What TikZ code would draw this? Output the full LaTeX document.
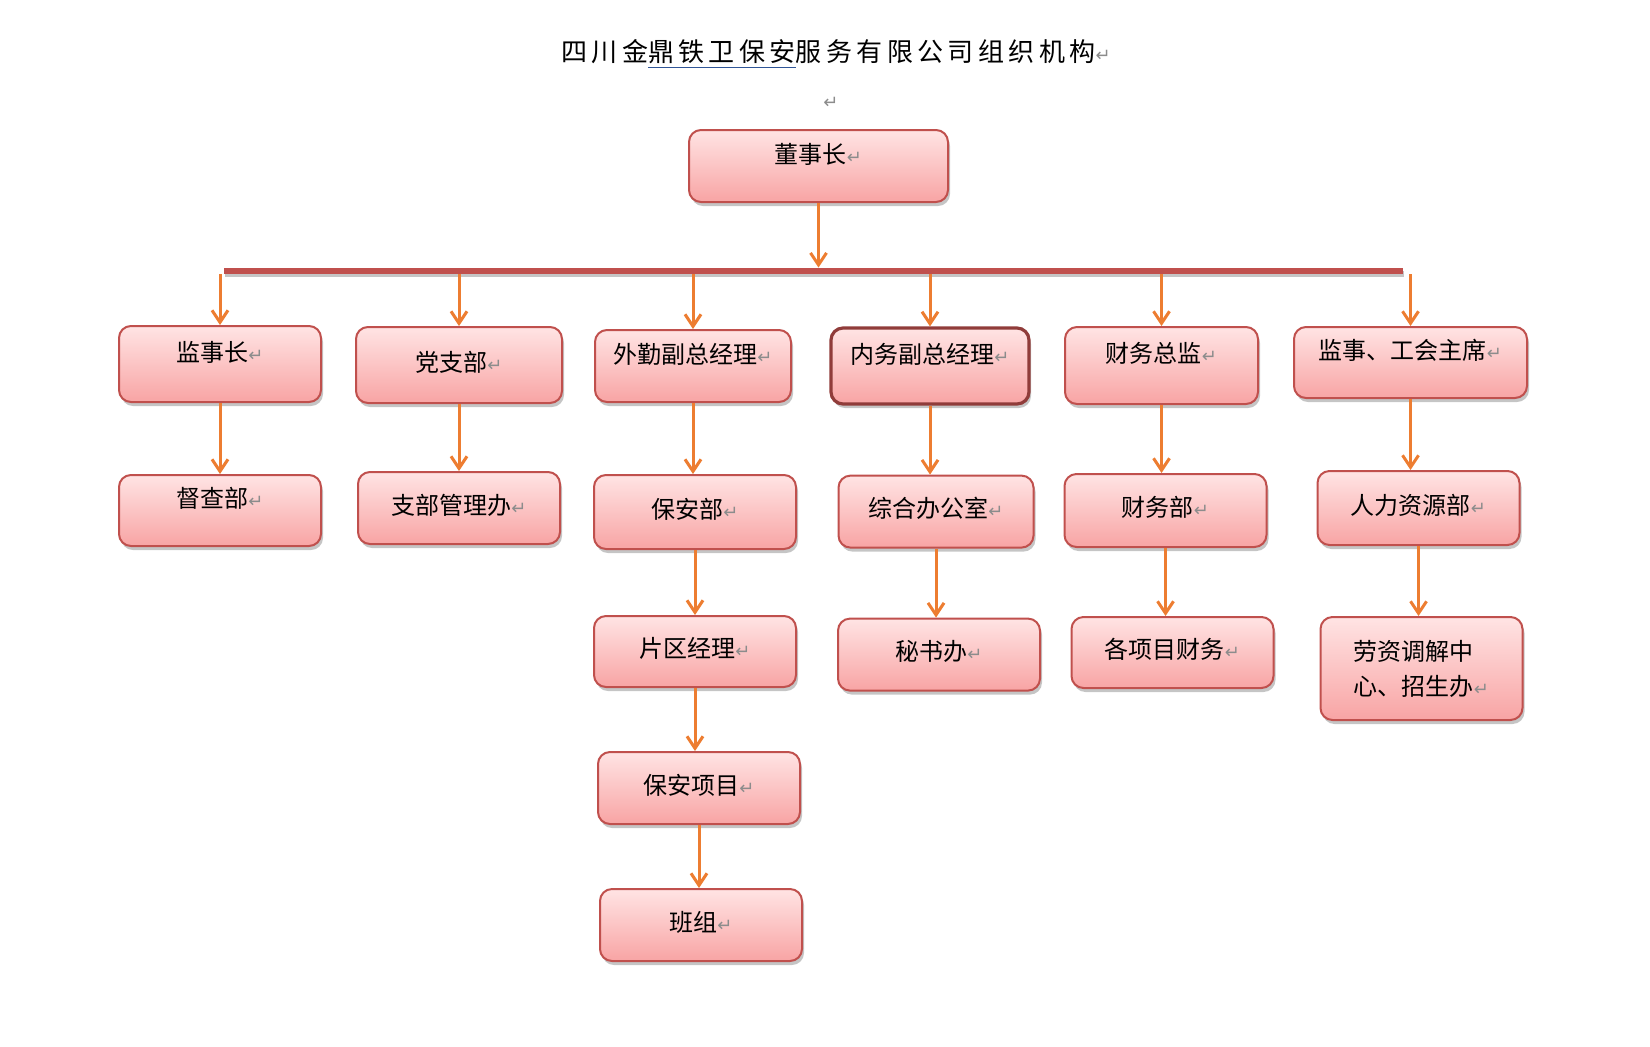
\documentclass[tikz,border=0pt]{standalone}
\usepackage{fontspec}
\usepackage{xcolor}
\usetikzlibrary{arrows.meta,positioning,shadows}
\setmainfont{Noto Sans CJK SC}
\newfontfamily\titlefont[LetterSpace=17]{Noto Sans CJK SC}
\newfontfamily\markfont{DejaVu Sans}
\definecolor{boxline}{HTML}{C0504D}
\definecolor{boxtop}{HTML}{FFE4E4}
\definecolor{boxbot}{HTML}{F8A4A4}
\definecolor{flowline}{HTML}{ED7D31}
\definecolor{markgray}{HTML}{8C8C8C}
\definecolor{spellblue}{HTML}{2F5597}
\newcommand{\retmark}{{\markfont\fontsize{9pt}{9pt}\selectfont\color{markgray}↵}}

\begin{document}
\begin{tikzpicture}[x=0.5pt, y=-0.5pt,
  orgbox/.style={rectangle, draw=boxline, line width=1pt, top color=boxtop, bottom color=boxbot, rounded corners=6pt, minimum width=101pt, minimum height=36pt, inner sep=2pt, align=center, text height=9pt, text depth=3pt, font=\fontsize{12pt}{17.5pt}\selectfont, drop shadow={shadow xshift=1pt, shadow yshift=-2pt, fill=black!45, opacity=0.5}},
  upbox/.style={orgbox, text depth=12pt},
  busbar/.style={rectangle, fill=boxline, inner sep=0pt, minimum height=3pt, drop shadow={shadow xshift=0.5pt, shadow yshift=-1.5pt, fill=black!45, opacity=0.5}},
  flow/.style={-{Straight Barb[length=6pt, width=8pt]}, line width=1.5pt, color=flowline}]
\useasboundingbox (0,0) rectangle (1650,1046);
% title
\node[font=\titlefont\fontsize{13pt}{15pt}\selectfont] (title) at (836,54) {四川金{\color{spellblue}\underline{\textcolor{black}{鼎铁卫保安}}}服务有限公司组织机构\retmark};
\node (blank) at (831,103) {\retmark};
% top
\node[upbox, minimum width=129.5pt] (dsz) at (818.5,166) {董事长\retmark};
\node[busbar, minimum width=589.5pt] (bar) at (813.5,271) {};
% first row
\node[upbox, minimum height=38pt] (jsz) at (220,364) {监事长\retmark};
\node[orgbox, minimum width=103pt, minimum height=38pt] (dzb) at (459,365) {党支部\retmark};
\node[upbox, minimum width=98pt] (wq) at (693,366) {外勤副总经理\retmark};
\node[upbox, minimum width=99pt, minimum height=38pt, draw=boxline!75!black, line width=1.6pt] (nw) at (930,366) {内务副总经理\retmark};
\node[upbox, minimum width=96.5pt, minimum height=38.5pt] (cwzj) at (1161.5,365.5) {财务总监\retmark};
\node[upbox, minimum width=116.5pt, minimum height=35.5pt] (jsgh) at (1410.5,362.5) {监事、工会主席\retmark};
% second row
\node[upbox, minimum height=35.5pt, below=35.5pt of jsz] (dcb) {督查部\retmark};
\node[orgbox, below=33.5pt of dzb] (zbglb) {支部管理办\retmark};
\node[orgbox, minimum height=37pt, below=35.5pt of wq, xshift=1pt] (bab) {保安部\retmark};
\node[orgbox, minimum width=97.5pt, below=34.5pt of nw, xshift=3pt] (zhbgs) {综合办公室\retmark};
\node[orgbox, minimum height=36.5pt, below=34pt of cwzj, xshift=2pt] (cwb) {财务部\retmark};
\node[orgbox, minimum height=37pt, below=35.5pt of jsgh, xshift=4pt] (rlzy) {人力资源部\retmark};
% third row
\node[orgbox, minimum height=35.5pt, below=32.5pt of bab] (pqjl) {片区经理\retmark};
\node[orgbox, below=34.5pt of zhbgs, xshift=1.5pt] (msb) {秘书办\retmark};
\node[orgbox, minimum height=35.5pt, below=34pt of cwb, xshift=3.5pt] (gxmcw) {各项目财务\retmark};
\node[orgbox, minimum height=51.5pt, text height={}, text depth={}, align=left, below=35pt of rlzy, xshift=1.5pt] (lztj) {劳资调解中\\心、招生办\retmark};
% lower rows
\node[orgbox, below=31.5pt of pqjl, xshift=2pt] (baxm) {保安项目\retmark};
\node[orgbox, below=31.5pt of baxm, xshift=1pt] (bz) {班组\retmark};
% connectors
\draw[flow] (dsz.south) -- (dsz.south |- bar.north);
\draw[flow] (jsz.north |- bar.south) -- (jsz.north);
\draw[flow] (dzb.north |- bar.south) -- (dzb.north);
\draw[flow] (wq.north |- bar.south) -- (wq.north);
\draw[flow] (nw.north |- bar.south) -- (nw.north);
\draw[flow] (cwzj.north |- bar.south) -- (cwzj.north);
\draw[flow] (jsgh.north |- bar.south) -- (jsgh.north);
\draw[flow] (jsz.south) -- (jsz.south |- dcb.north);
\draw[flow] (dzb.south) -- (dzb.south |- zbglb.north);
\draw[flow] (wq.south) -- (wq.south |- bab.north);
\draw[flow] (nw.south) -- (nw.south |- zhbgs.north);
\draw[flow] (cwzj.south) -- (cwzj.south |- cwb.north);
\draw[flow] (jsgh.south) -- (jsgh.south |- rlzy.north);
\draw[flow] (bab.south) -- (bab.south |- pqjl.north);
\draw[flow] (zhbgs.south) -- (zhbgs.south |- msb.north);
\draw[flow] (cwb.south) -- (cwb.south |- gxmcw.north);
\draw[flow] (rlzy.south) -- (rlzy.south |- lztj.north);
\draw[flow] (pqjl.south) -- (pqjl.south |- baxm.north);
\draw[flow] (baxm.south) -- (baxm.south |- bz.north);
\end{tikzpicture}
\end{document}
